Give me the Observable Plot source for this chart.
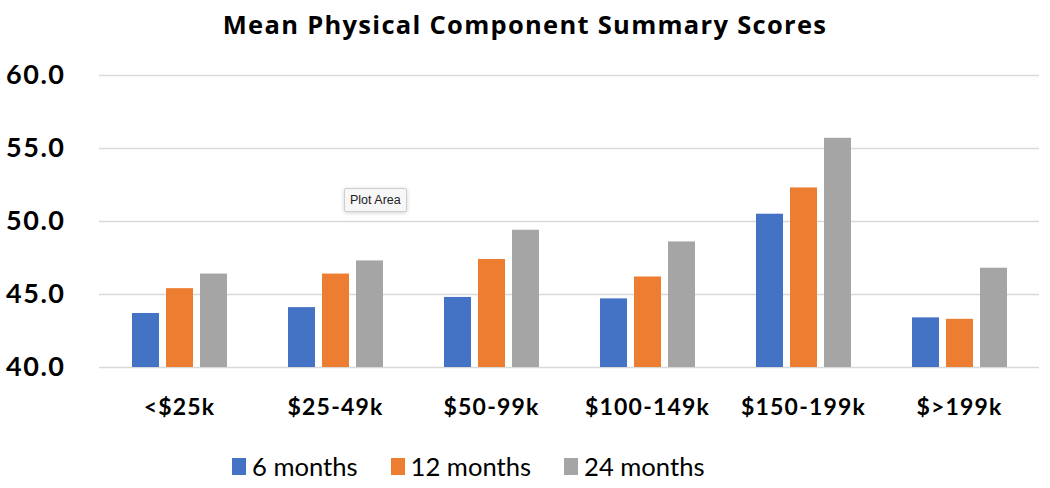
<!DOCTYPE html>
<html><head><meta charset="utf-8">
<script src="https://cdn.jsdelivr.net/npm/d3@7"></script>
<script src="https://cdn.jsdelivr.net/npm/@observablehq/plot@0.6"></script>
<style>
body{margin:0;background:#fff;width:1050px;height:488px;position:relative;overflow:hidden;font-family:Lato,"Open Sans",sans-serif;color:#000}
.layer{position:absolute;top:0;left:0}
#title{position:absolute;top:6px;left:0;width:1050px;text-align:center;font-family:"Open Sans",sans-serif;font-weight:bold;font-size:25.5px;letter-spacing:1.3px;line-height:36px}
#legend{position:absolute;top:449px;left:232px;display:flex;align-items:center;font-size:25.6px;line-height:34px}
#legend .item{display:flex;align-items:center;margin-right:33px}
#legend .sw{width:14px;height:17px;margin-right:6px}
#tip{position:absolute;left:344px;top:188px;height:22px;padding:0 5px;border:1px solid #cfcfcf;border-radius:2px;background:#f7f7f7;box-shadow:0 1px 4px rgba(0,0,0,0.18);font-family:"Liberation Sans",Arial,sans-serif;font-size:12.5px;line-height:22px;color:#222}
#fg g[aria-label="fx-axis tick label"] text{letter-spacing:1.2px}
#bg g[aria-label="y-axis tick label"] text{letter-spacing:1.5px}
</style></head><body>
<div id="bg" class="layer"></div>
<div id="fg" class="layer"></div>
<div id="title">Mean Physical Component Summary Scores</div>
<div id="legend"></div>
<div id="tip">Plot Area</div>
<script>
const categories = ["<$25k","$25-49k","$50-99k","$100-149k","$150-199k","$>199k"];
const seriesNames = ["6 months","12 months","24 months"];
const months6  = [43.7,44.1,44.8,44.7,50.5,43.4];
const months12 = [45.4,46.4,47.4,46.2,52.3,43.3];
const months24 = [46.4,47.3,49.4,48.6,55.7,46.8];
const colors = ["#4472C4","#ED7D31","#A5A5A5"];
const yTicks = [40,45,50,55,60];

const seriesValues = [months6, months12, months24];
const data = categories.flatMap((c,i) => seriesValues.map((arr,j) => ({category:c, series:seriesNames[j], value:arr[i]})));

const dims = {width:1050, height:430, marginTop:75, marginBottom:63, marginLeft:99, marginRight:11};

// background layer: full-width gridlines and y tick labels
const bg = Plot.plot({
  ...dims,
  style:{fontFamily:"Lato, sans-serif", background:"transparent", color:"#000"},
  x:{axis:null},
  y:{domain:[40,60], axis:null},
  marks:[
    Plot.ruleY(yTicks, {stroke:"#d9d9d9", strokeWidth:1.6}),
    Plot.axisY(yTicks, {tickSize:0, tickPadding:34, tickFormat:d3.format(".1f"), fontSize:27, fontWeight:"bold", label:null, fill:"#000"})
  ]
});
document.getElementById("bg").appendChild(bg);

// foreground layer: grouped bars
const fg = Plot.plot({
  ...dims,
  style:{fontFamily:"Lato, sans-serif", background:"transparent", color:"#000"},
  fx:{domain:categories, paddingInner:0.387, paddingOuter:0.194, label:null, axis:null},
  x:{domain:seriesNames, paddingInner:0.22, paddingOuter:0, axis:null},
  y:{domain:[40,60], axis:null},
  color:{domain:seriesNames, range:colors},
  marks:[
    Plot.barY(data, {fx:"category", x:"series", y1:40, y2:"value", fill:"series"}),
    Plot.axisFx({anchor:"bottom", tickSize:0, tickPadding:31, fontSize:23, fontWeight:"bold", label:null, fill:"#000"})
  ]
});
document.getElementById("fg").appendChild(fg);

const legend = document.getElementById("legend");
seriesNames.forEach((s,i) => {
  const it = document.createElement("div"); it.className = "item";
  const sw = document.createElement("span"); sw.className = "sw"; sw.style.background = colors[i];
  const tx = document.createElement("span"); tx.textContent = s;
  it.appendChild(sw); it.appendChild(tx); legend.appendChild(it);
});
</script>
</body></html>
